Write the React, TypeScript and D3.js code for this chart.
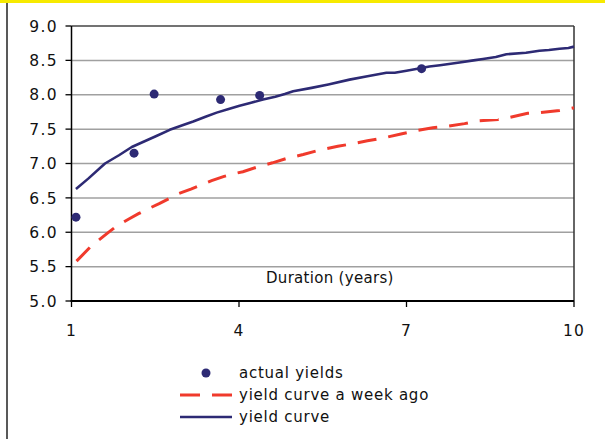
import React from "react";
import * as d3 from "d3";

const actualDur = [1.08, 2.12, 2.48, 3.67, 4.37, 7.27];
const actualYld = [6.22, 7.15, 8.01, 7.93, 7.99, 8.38];

const curveDur = [1.08, 1.3, 1.6, 1.85, 2.08, 2.3, 2.52, 2.76, 3.0, 3.18, 3.4, 3.6, 3.8, 4.01, 4.2, 4.43, 4.65, 4.82, 4.97, 5.3, 5.6, 5.98, 6.3, 6.64, 6.79, 7.0, 7.27, 7.41, 7.6, 7.95, 8.2, 8.37, 8.6, 8.79, 9.14, 9.38, 9.55, 9.74, 9.9, 10];
const curveYld = [6.63, 6.78, 7.0, 7.12, 7.24, 7.32, 7.4, 7.49, 7.56, 7.61, 7.68, 7.74, 7.79, 7.84, 7.88, 7.93, 7.97, 8.01, 8.05, 8.1, 8.15, 8.22, 8.27, 8.32, 8.32, 8.35, 8.39, 8.41, 8.43, 8.47, 8.5, 8.52, 8.55, 8.59, 8.61, 8.64, 8.65, 8.67, 8.68, 8.7];

const weekDur = [1.09, 1.33, 1.51, 1.65, 1.81, 2.02, 2.2, 2.37, 2.58, 2.75, 2.91, 3.15, 3.3, 3.51, 3.72, 3.9, 4.07, 4.37, 4.6, 4.88, 5.15, 5.42, 5.77, 5.98, 6.3, 6.58, 6.9, 7.18, 7.47, 7.71, 8.04, 8.28, 8.64, 8.84, 9.17, 9.38, 9.74, 10];
const weekYld = [5.58, 5.78, 5.9, 5.99, 6.09, 6.19, 6.27, 6.34, 6.42, 6.49, 6.56, 6.63, 6.68, 6.75, 6.81, 6.85, 6.88, 6.96, 7.01, 7.08, 7.13, 7.19, 7.25, 7.28, 7.33, 7.37, 7.43, 7.48, 7.52, 7.54, 7.58, 7.62, 7.64, 7.67, 7.73, 7.74, 7.77, 7.81];

const xTicks = [1, 4, 7, 10];
const yTicks = [5, 5.5, 6, 6.5, 7, 7.5, 8, 8.5, 9];
const xLabel = "Duration (years)";
const legendLabels = ["actual yields", "yield curve a week ago", "yield curve"];

const NAVY = "#2d2a74";
const RED = "#f03a2c";
const FONT = "'DejaVu Sans', sans-serif";

export default function App() {
  const left = 71.5, right = 574, top = 26, bottom = 301;
  const x = d3.scaleLinear().domain([1, 10]).range([left, right]);
  const y = d3.scaleLinear().domain([5, 9]).range([bottom, top]);

  const line = d3
    .line<[number, number]>()
    .x((d) => x(d[0]))
    .y((d) => y(d[1]))
    .curve(d3.curveLinear);

  const curvePts = curveDur.map((d, i) => [d, curveYld[i]] as [number, number]);
  const weekPts = weekDur.map((d, i) => [d, weekYld[i]] as [number, number]);

  return (
    <svg
      width={605}
      height={439}
      style={{ position: "absolute", left: 0, top: 0, background: "#fff" }}
      fontFamily={FONT}
    >
      <rect x={0} y={0} width={605} height={3} fill="#f7ea00" />
      <line x1={7} x2={7} y1={3} y2={439} stroke="#222" strokeWidth={1.5} />

      {/* gridlines */}
      {yTicks.slice(1, -1).map((t) => (
        <line key={t} x1={left} x2={right} y1={y(t)} y2={y(t)} stroke="#a0a0a0" strokeWidth={1.5} />
      ))}
      {/* frame */}
      <line x1={left} x2={right} y1={top} y2={top} stroke="#444" strokeWidth={1.5} />
      <line x1={right} x2={right} y1={top} y2={bottom} stroke="#333" strokeWidth={1.5} />
      <line x1={left} x2={left} y1={top} y2={bottom} stroke="#000" strokeWidth={1.5} />
      <line x1={left - 1} x2={right} y1={bottom} y2={bottom} stroke="#000" strokeWidth={1.8} />

      {/* y ticks */}
      {yTicks.map((t) => (
        <g key={t}>
          <line x1={left - 6} x2={left} y1={y(t)} y2={y(t)} stroke="#000" strokeWidth={1.3} />
          <text x={58} y={y(t)} dy="0.37em" textAnchor="end" fontSize={15.5} letterSpacing={1.4} fill="#111">
            {t.toFixed(1)}
          </text>
        </g>
      ))}
      {/* x ticks */}
      {xTicks.map((t) => (
        <g key={t}>
          <line x1={x(t)} x2={x(t)} y1={bottom} y2={bottom + 6} stroke="#000" strokeWidth={1.3} />
          <text x={x(t)} y={336} textAnchor="middle" fontSize={15.5} letterSpacing={1.2} fill="#111">
            {t}
          </text>
        </g>
      ))}

      <text x={266} y={282.5} fontSize={15} letterSpacing={0.3} fill="#111">
        {xLabel}
      </text>

      {/* series */}
      <path d={line(weekPts) || ""} fill="none" stroke={RED} strokeWidth={3} strokeDasharray="19,12" />
      <path d={line(curvePts) || ""} fill="none" stroke={NAVY} strokeWidth={2.6} strokeLinejoin="round" />
      {actualDur.map((d, i) => (
        <circle key={i} cx={x(d)} cy={y(actualYld[i])} r={4.5} fill={NAVY} />
      ))}

      {/* legend */}
      <circle cx={206} cy={373} r={4.5} fill={NAVY} />
      <line x1={180} x2={232} y1={395} y2={395} stroke={RED} strokeWidth={3} strokeDasharray="20,12" />
      <line x1={180} x2={232} y1={417} y2={417} stroke={NAVY} strokeWidth={2.6} />
      {legendLabels.map((l, i) => (
        <text key={l} x={239} y={378 + i * 22} fontSize={15} letterSpacing={0.75} fill="#111">
          {l}
        </text>
      ))}
    </svg>
  );
}
